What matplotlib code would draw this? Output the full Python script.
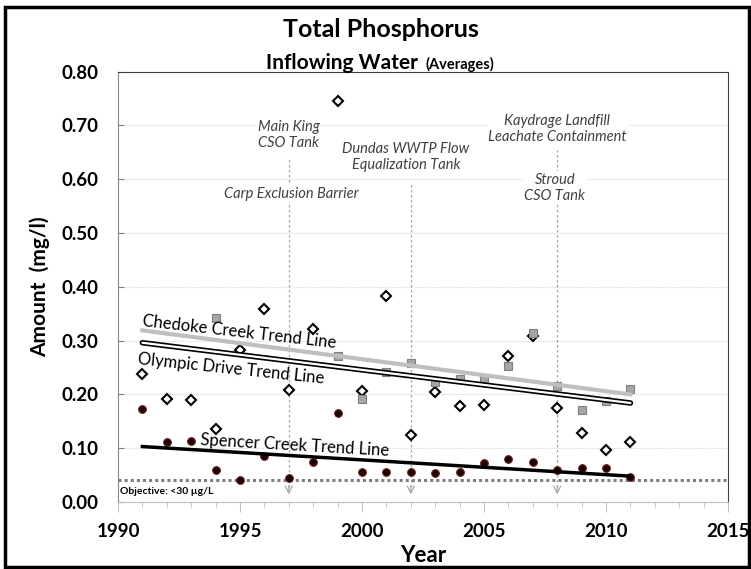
import numpy as np
import matplotlib
matplotlib.use("Agg")
import matplotlib.pyplot as plt
from matplotlib.patches import Rectangle

plt.rcParams["font.family"] = ["Lato", "DejaVu Sans"]

nan = np.nan

# Data (mg/l)
years = list(range(1991, 2012))
olympic = [0.237, 0.191, 0.190, 0.135, 0.282, 0.358, 0.208, 0.321, 0.745, 0.206,
           0.383, 0.125, 0.204, 0.178, 0.181, 0.272, 0.308, 0.174, 0.129, 0.096, 0.112]
chedoke = [nan, nan, nan, 0.342, nan, nan, nan, nan, 0.271, 0.191,
           0.242, 0.259, 0.223, 0.229, 0.227, 0.253, 0.314, 0.215, 0.171, 0.187, 0.210]
spencer = [0.172, 0.111, 0.114, 0.059, 0.041, 0.085, 0.044, 0.075, 0.166, 0.056,
           0.055, 0.055, 0.053, 0.056, 0.072, 0.080, 0.074, 0.059, 0.063, 0.064, 0.047]

trend_years = [1991, 2011]
chedoke_trend = [0.319, 0.200]
olympic_trend = [0.296, 0.184]
spencer_trend = [0.103, 0.048]

objective = 0.04

event_years = [1997, 2002, 2008]
event_labels = ["Main King\nCSO Tank", "Carp Exclusion Barrier",
                "Dundas WWTP Flow\nEqualization Tank",
                "Kaydrage Landfill\nLeachate Containment", "Stroud\nCSO Tank"]

# Layout for the annotations
label_xy = [(1997.0, 0.682), (1997.1, 0.573), (2001.8, 0.642), (2008.0, 0.693), (2007.9, 0.584)]
arrow_top = [0.641, 0.595, 0.655]

fig = plt.figure(figsize=(7.51, 5.69), dpi=100)
ax = fig.add_axes([0.1571, 0.1178, 0.8123, 0.7563])

# markers
ax.plot(years, olympic, linestyle="none", marker="D", ms=5, mfc="white",
        mec="black", mew=1.5, zorder=3)
ax.plot(years, chedoke, linestyle="none", marker="s", ms=6, mfc="#a6a6a6",
        mec="#7f7f7f", mew=0.8, zorder=3)
ax.plot(years, spencer, linestyle="none", marker="o", ms=5.5, mfc="#1a0505",
        mec="#6b1a1a", mew=0.8, zorder=3)

# trend lines
ax.plot(trend_years, chedoke_trend, color="#bfbfbf", lw=3, zorder=4)
ax.plot(trend_years, olympic_trend, color="black", lw=4, solid_capstyle="round", zorder=4)
ax.plot(trend_years, olympic_trend, color="white", lw=1.6, solid_capstyle="round", zorder=4)
ax.plot(trend_years, spencer_trend, color="black", lw=2.5, zorder=4)

ax.text(1991.0, 0.327, "Chedoke Creek Trend Line", rotation=-6.5, rotation_mode="anchor",
        ha="left", va="baseline", fontsize=12, zorder=5)
ax.text(1990.8, 0.256, "Olympic Drive Trend Line", rotation=-6.0, rotation_mode="anchor",
        ha="left", va="baseline", fontsize=12, zorder=5)
ax.text(1993.35, 0.106, "Spencer Creek Trend Line", rotation=-3.3, rotation_mode="anchor",
        ha="left", va="baseline", fontsize=12, zorder=5)

# objective
ax.axhline(objective, color="#7f7f7f", lw=2.2, linestyle=(0, (1, 1)), zorder=2)
ax.text(1990.08, 0.019, "Objective: <30 µg/L", fontsize=7.5, fontweight="bold", va="center")

# events
for yr, top in zip(event_years, arrow_top):
    ax.plot([yr, yr], [0.028, top], color="#a6a6a6", lw=0.9, linestyle=(0, (2, 2)), zorder=1.5)
    ax.annotate("", xy=(yr, 0.014), xytext=(yr, 0.03),
                arrowprops=dict(arrowstyle="->,head_length=0.5,head_width=0.25",
                                color="#a6a6a6", lw=0.9, shrinkA=0, shrinkB=0))
for (x, y), lbl in zip(label_xy, event_labels):
    ax.text(x, y, lbl, ha="center", va="center", fontsize=10.5, style="italic",
            color="#404040", linespacing=1.2, zorder=2.6,
            bbox=dict(fc="white", ec="none", pad=1))

# axes
ax.set_xlim(1990, 2015)
ax.set_ylim(0, 0.8)
ax.set_xticks(range(1990, 2016, 5))
ax.set_xticks(range(1990, 2016), minor=True)
yt = np.arange(0, 0.81, 0.1)
ax.set_yticks(yt)
ax.set_yticklabels([f"{v:.2f}" for v in yt])
ax.yaxis.grid(True, color="#d9d9d9", linestyle=(0, (1, 1)), lw=0.8)
ax.set_axisbelow(True)

ax.tick_params(axis="x", which="major", length=7, direction="out", color="#bfbfbf",
               labelsize=13.5, pad=8)
ax.tick_params(axis="x", which="minor", length=3.5, direction="out", color="#bfbfbf")
ax.tick_params(axis="y", length=4, direction="in", color="#7f7f7f", labelsize=13.5, pad=14)
for t in ax.get_xticklabels() + ax.get_yticklabels():
    t.set_fontweight("bold")

ax.spines["left"].set_color("#868686")
ax.spines["bottom"].set_color("#bfbfbf")
ax.spines["top"].set_color("#404040")
ax.spines["right"].set_color("#404040")

ax.set_xlabel("Year", fontsize=16, fontweight="bold", labelpad=4)
ax.set_ylabel("Amount  (mg/l)", fontsize=15, fontweight="bold", labelpad=8)

fig.text(0.5067, 0.935, "Total Phosphorus", ha="center", va="baseline",
         fontsize=18, fontweight="bold")
fig.text(0.557, 0.878, "Inflowing Water", ha="right", va="baseline",
         fontsize=15, fontweight="bold")
fig.text(0.567, 0.878, "(Averages)", ha="left", va="baseline",
         fontsize=10.5, fontweight="bold")

fig.add_artist(Rectangle((0.0067, 0.0035), 0.99, 0.984, transform=fig.transFigure,
                         fill=False, edgecolor="black", lw=2.5))

fig.savefig("out.png", dpi=100)
